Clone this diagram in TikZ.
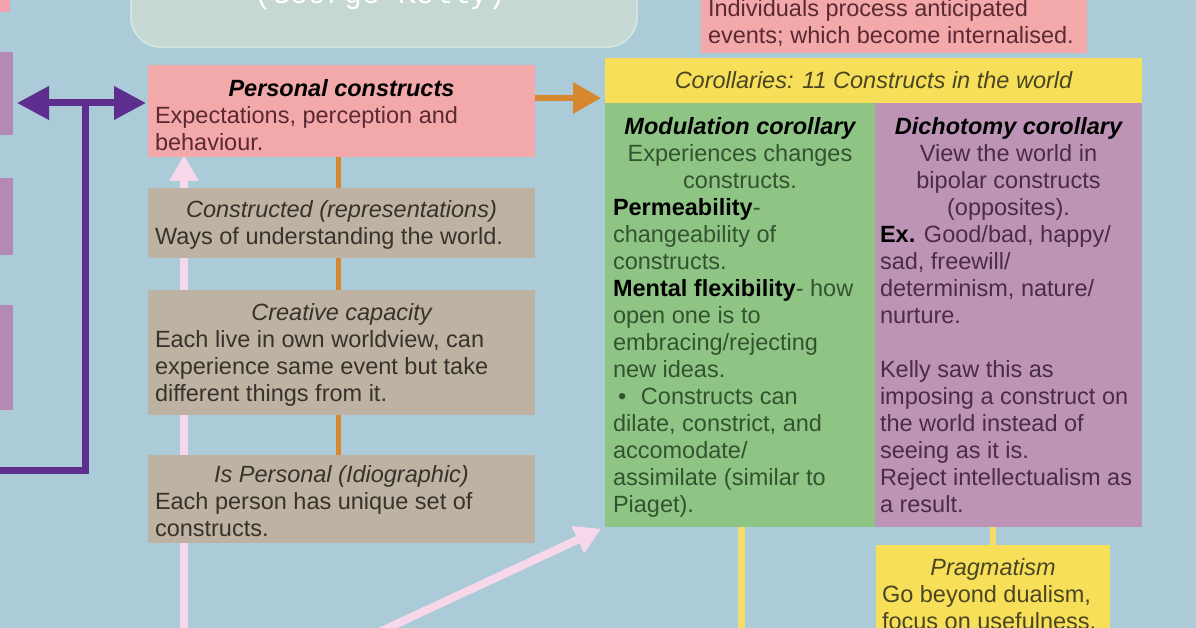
\documentclass[tikz,border=0pt]{standalone}
\usepackage{fontspec}
\setmainfont{Liberation Sans}
\newfontfamily\kellymono{Liberation Mono}
\usetikzlibrary{arrows.meta}
\pgfdeclarelayer{back}
\pgfsetlayers{back,main}
\definecolor{bg}{HTML}{AACBD7}
\definecolor{titlefill}{HTML}{C5D8D3}
\definecolor{titleedge}{HTML}{D3E3DE}
\definecolor{pinkfill}{HTML}{F3A8AA}
\definecolor{pinktext}{HTML}{5A2A33}
\definecolor{tanfill}{HTML}{BEB3A2}
\definecolor{tantext}{HTML}{36322C}
\definecolor{yellowfill}{HTML}{F7DF5A}
\definecolor{yellowtext}{HTML}{4A4624}
\definecolor{greenfill}{HTML}{8EC585}
\definecolor{greentext}{HTML}{33532F}
\definecolor{purplefill}{HTML}{BD94B5}
\definecolor{purpletext}{HTML}{4B2C48}
\definecolor{sidepurple}{HTML}{B38BB2}
\definecolor{sidepink}{HTML}{F2A2AC}
\definecolor{arrowpurple}{HTML}{5E2E8E}
\definecolor{arroworange}{HTML}{D7882F}
\definecolor{arrowpink}{HTML}{F6D8EA}
\definecolor{lineyellow}{HTML}{F4DE66}
\newcommand{\fs}[1]{\rule{0pt}{#1}}
\newcommand{\panel}[3]{\begin{minipage}[t][#2][t]{#1}\raggedright #3\end{minipage}}
\begin{document}
\begin{tikzpicture}[x=1pt,y=-1pt,
  panel/.style={anchor=north west, inner ysep=0pt, outer sep=0pt,
    font=\fontsize{23.5}{27}\selectfont},
  sidebox/.style={anchor=north west, fill=sidepurple, inner sep=0pt, outer sep=0pt, minimum width=18pt},
  purplearrow/.style={draw=arrowpurple, line width=7pt,
    {Triangle[length=32pt,width=32pt]}-{Triangle[length=32pt,width=32pt]}},
  purpleline/.style={draw=arrowpurple, line width=7pt},
  orangearrow/.style={draw=arroworange, line width=6pt, -{Triangle[length=28pt,width=30pt]}},
  orangeline/.style={draw=arroworange, line width=5pt},
  pinkarrow/.style={draw=arrowpink, line width=8pt, -{Triangle[length=26pt,width=28pt]}},
  yellowline/.style={draw=lineyellow, line width=7pt}]
\useasboundingbox (0,0) rectangle (1196,628);
\clip (0,0) rectangle (1196,628);

% title box (cut off at top)
\node[anchor=south west, fill=titlefill, draw=titleedge, line width=2pt, rounded corners=30pt,
  minimum width=506pt, minimum height=110pt, inner sep=0pt] (title) at (130,48) {};
\node[anchor=base, text=white, font=\kellymono\fontsize{30}{30}\selectfont, inner sep=0pt] (titletext) at (380,4) {(George Kelly)};

% left side boxes
\node[anchor=north west, fill=sidepink, inner sep=0pt, minimum width=15pt, minimum height=17pt] (lpink) at (-5,-5) {};
\node[sidebox, minimum height=83pt] (lp1) at (-5,52) {};
\node[sidebox, minimum height=77pt] (lp2) at (-5,178) {};
\node[sidebox, minimum height=105pt] (lp3) at (-5,305) {};

% left column
\node[panel, fill=pinkfill, text=pinktext, inner xsep=7pt] (personal) at (148,65)
  {\panel{373pt}{92pt}{{\centering\fs{32pt}\color{black}\bfseries\itshape Personal constructs\par}Expectations, perception and\\ behaviour.}};
\node[panel, fill=tanfill, text=tantext, inner xsep=7pt] (constructed) at (148,188)
  {\panel{373pt}{70pt}{{\centering\fs{30pt}\itshape Constructed (representations)\par}Ways of understanding the world.}};
\node[panel, fill=tanfill, text=tantext, inner xsep=7pt] (creative) at (148,290)
  {\panel{373pt}{125pt}{{\centering\fs{30pt}\itshape Creative capacity\par}Each live in own worldview, can\\ experience same event but take\\ different things from it.}};
\node[panel, fill=tanfill, text=tantext, inner xsep=7pt] (idio) at (148,455)
  {\panel{373pt}{88pt}{{\centering\fs{27pt}\itshape Is Personal (Idiographic)\par}Each person has unique set of\\ constructs.}};

% right column
\node[panel, fill=pinkfill, text=pinktext, inner xsep=7pt] (process) at (701,-20)
  {\panel{372pt}{73pt}{\fs{37pt}Individuals process anticipated\\ events; which become internalised.}};
\node[anchor=north west, fill=yellowfill, text=yellowtext, inner sep=0pt, outer sep=0pt,
  minimum width=537pt, minimum height=45pt, font=\fontsize{23.5}{27}\selectfont\itshape] (header) at (605,58)
  {Corollaries: 11 Constructs in the world};
\node[panel, fill=greenfill, text=greentext, inner xsep=8pt] (modulation) at (605,103)
  {\panel{254pt}{424pt}{{\centering\fs{32pt}\color{black}\bfseries\itshape Modulation corollary\\ \normalfont\color{greentext}Experiences changes\\ constructs.\par}%
  {\bfseries\color{black}Permeability}-\\ changeability of\\ constructs.\\ {\bfseries\color{black}Mental flexibility}- how\\ open one is to\\ embracing/rejecting\\ new ideas.\par
  {\hangindent=28pt\hangafter=1\noindent\makebox[28pt][l]{\hspace*{5pt}\textbullet}Constructs can\\ dilate, constrict, and\\ accomodate/\\ assimilate (similar to\\ Piaget).\par}}};
\node[panel, fill=purplefill, text=purpletext, inner xsep=5pt] (dichotomy) at (875,103)
  {\panel{257pt}{424pt}{{\centering\fs{32pt}\color{black}\bfseries\itshape Dichotomy corollary\\ \normalfont\color{purpletext}View the world in\\ bipolar constructs\\ (opposites).\par}%
  {\bfseries\color{black}Ex.} Good/bad, happy/\\ sad, freewill/\\ determinism, nature/\\ nurture.\\[27pt] Kelly saw this as\\ imposing a construct on\\ the world instead of\\ seeing as it is.\\ Reject intellectualism as\\ a result.}};
\node[panel, fill=yellowfill, text=yellowtext, inner xsep=6pt] (pragmatism) at (876,545)
  {\panel{222pt}{115pt}{{\centering\fs{30pt}\itshape Pragmatism\par}Go beyond dualism,\\ focus on usefulness.}};

% coordinates
\coordinate (pj) at (85,103);
\coordinate (pb) at (-10,470);
\coordinate (oa) at (0,98);
\coordinate (oc) at (338,0);
\coordinate (pk) at (184,640);
\coordinate (pd) at (362,640);
\coordinate (yl) at (741,640);
\coordinate (yr) at (993,0);

\begin{pgfonlayer}{back}
  \fill[bg] (-10,-10) rectangle (1206,640);
  \draw[pinkarrow, shorten >=-2pt] (pk) -- (personal.south -| pk);
  \draw[pinkarrow, shorten >=4pt] (pd) -- (modulation.south west);
\end{pgfonlayer}

% connectors
\draw[purplearrow, shorten <=4pt, shorten >=2pt] (lp1.east |- pj) -- (personal.west |- pj);
\draw[purpleline] (pj) |- (pb);
\draw[orangearrow, shorten >=4pt] (personal.east |- oa) -- (header.west |- oa);
\draw[orangeline] (personal.south -| oc) -- (constructed.north -| oc);
\draw[orangeline] (constructed.south -| oc) -- (creative.north -| oc);
\draw[orangeline] (creative.south -| oc) -- (idio.north -| oc);
\draw[yellowline] (modulation.south -| yl) -- (yl);
\draw[yellowline, line width=6pt] (dichotomy.south -| yr) -- (pragmatism.north -| yr);
\end{tikzpicture}
\end{document}
